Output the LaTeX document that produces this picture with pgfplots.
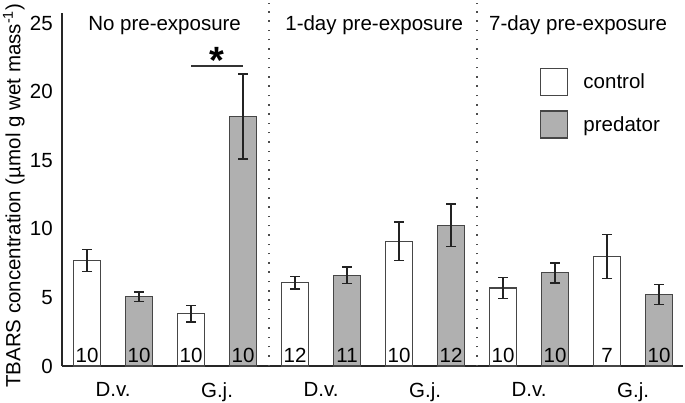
\documentclass[border=0pt]{standalone}
\usepackage{pgfplots}
\pgfplotsset{compat=1.18}
\usepackage{fontspec}
\setmainfont{Liberation Sans}
\definecolor{barline}{RGB}{70,70,70}
\definecolor{errc}{RGB}{35,35,35}
\definecolor{predfill}{RGB}{176,176,176}
\newcommand{\fs}{\fontsize{20.5bp}{24bp}\selectfont}
\begin{document}
\begin{tikzpicture}[font=\fs]
\useasboundingbox (0,0) rectangle (685bp,403bp);
\begin{axis}[
  at={(62bp,37bp)}, anchor=south west,
  scale only axis, width=621bp, height=353bp,
  xmin=0.519, xmax=12.46, ymin=0, ymax=25.73,
  clip=false,
  axis x line=bottom, axis y line=left,
  axis line style={-, line width=1.3bp, black!85},
  major tick length=0pt,
  ytick={0,5,10,15,20,25},
  xtick={1.5,3.5,5.5,7.5,9.5,11.5},
  xticklabels={D.v.,G.j.,D.v.,G.j.,D.v.,G.j.},
  /pgf/number format/assume math mode=true,
  tick label style={font=\fs},
  yticklabel style={inner sep=0pt, anchor=east, xshift=-9bp},
  xticklabel style={inner sep=0pt, anchor=north, yshift=-16bp},
  ylabel={TBARS concentration (µmol g wet mass\textsuperscript{-1})},
  ylabel style={font=\fs, at={(axis description cs:-0.067,0.482)}, anchor=base, inner sep=0pt},
  legend style={draw=none, fill=none, font=\fs, at={(axis cs:9.712,21.72)}, anchor=north west,
    inner sep=0pt, row sep=14bp, nodes={inner sep=0pt},
    /tikz/every odd column/.append style={column sep=15bp}},
  legend cell align=left,
  legend image code/.code={\draw[#1, line width=1.2bp] (0bp,-13.5bp) rectangle (27bp,13.5bp);},
]
\addplot[ybar, bar width=0.52, bar shift=0pt, fill=white, draw=barline, line width=1.2bp,
  error bars/.cd, y dir=both, y explicit,
  error bar style={line width=1.6bp, errc},
  error mark options={rotate=90, mark size=5bp, line width=1.6bp, errc}]
  coordinates {
  (1,7.70) +- (0,0.80)
  (3,3.80) +- (0,0.60)
  (5,6.08) +- (0,0.45)
  (7,9.08) +- (0,1.40)
  (9,5.69) +- (0,0.77)
  (11,7.99) +- (0,1.60)
  };
\addlegendentry{control}
\addplot[ybar, bar width=0.52, bar shift=0pt, fill=predfill, draw=barline, line width=1.2bp,
  error bars/.cd, y dir=both, y explicit,
  error bar style={line width=1.6bp, errc},
  error mark options={rotate=90, mark size=5bp, line width=1.6bp, errc}]
  coordinates {
  (2,5.05) +- (0,0.35)
  (4,18.20) +- (0,3.10)
  (6,6.60) +- (0,0.60)
  (8,10.26) +- (0,1.55)
  (10,6.79) +- (0,0.72)
  (12,5.20) +- (0,0.73)
  };
\addlegendentry{predator}
% sample sizes
\addplot[draw=none, mark=none, forget plot, nodes near coords, point meta=explicit symbolic,
  every node near coord/.style={anchor=base, inner sep=0pt, font=\fs}]
  coordinates {
  (1,0.29)[10] (2,0.29)[10] (3,0.29)[10] (4,0.29)[10]
  (5,0.29)[12] (6,0.29)[11] (7,0.29)[10] (8,0.29)[12]
  (9,0.29)[10] (10,0.29)[10] (11,0.29)[7] (12,0.29)[10]
  };
% separators
\addplot[forget plot, line width=1.5bp, black!70, dash pattern=on 1.5bp off 7.8bp]
  coordinates {(4.5,0) (4.5,26.46)};
\addplot[forget plot, line width=1.5bp, black!70, dash pattern=on 1.5bp off 7.8bp]
  coordinates {(8.5,0) (8.5,26.46)};
% significance
\addplot[forget plot, line width=1.2bp, black!80] coordinates {(3,21.87) (4,21.87)};
\node[anchor=base, inner sep=0pt, font=\fontsize{38bp}{40bp}\selectfont\bfseries] at (axis cs:3.5,21.35) {*};
% group titles
\node[anchor=base west, inner sep=0pt] at (axis cs:1.02,24.49) {No pre-exposure};
\node[anchor=base west, inner sep=0pt] at (axis cs:4.81,24.49) {1-day pre-exposure};
\node[anchor=base west, inner sep=0pt] at (axis cs:8.73,24.49) {7-day pre-exposure};
\end{axis}
\end{tikzpicture}
\end{document}
